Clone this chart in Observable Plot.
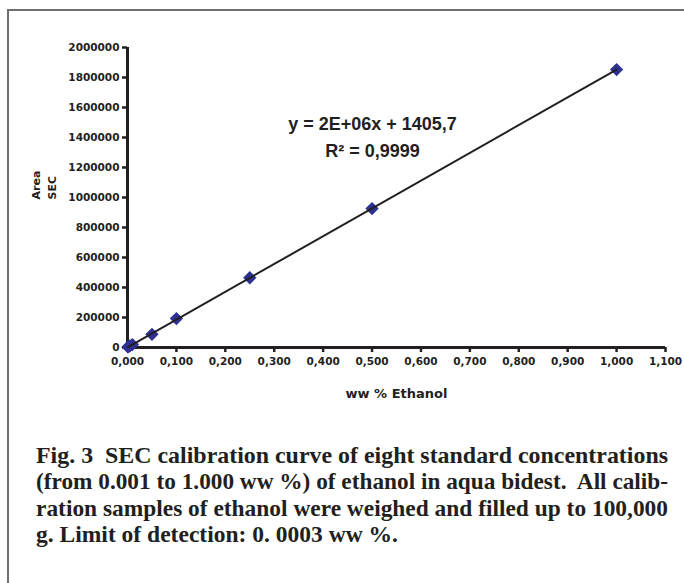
<!DOCTYPE html>
<html>
<head>
<meta charset="utf-8">
<script src="https://cdn.jsdelivr.net/npm/d3@7"></script>
<script src="https://cdn.jsdelivr.net/npm/@observablehq/plot@0.6"></script>
<style>
  html, body { margin: 0; padding: 0; background: #fff; }
  #page { position: relative; width: 684px; height: 583px; overflow: hidden; }
  #frame { position: absolute; left: 7px; top: 9px; width: 700px; height: 600px;
           border-left: 2.5px solid #6f6f6f; border-top: 2.5px solid #6f6f6f; }
  #chart { position: absolute; left: 0; top: 0; }
  #caption { position: absolute; left: 36px; top: 443px; width: 632px;
             font-family: "Liberation Serif", "Times New Roman", Times, serif; font-weight: bold;
             font-size: 22.5px; line-height: 26.3px; color: #231f20; }
  #caption div { white-space: pre; height: 26.3px; }
  #caption span { display: inline-block; transform-origin: 0 50%; }
</style>
</head>
<body>
<div id="page">
  <div id="frame"></div>
  <div id="chart"></div>
  <div id="caption"></div>
</div>
<script>
// Data
const concentration = [0.001, 0.005, 0.01, 0.05, 0.1, 0.25, 0.5, 1.0];
const area = [3500, 10500, 19500, 88000, 193000, 465000, 926000, 1853000];

const xTicks = [0, 0.1, 0.2, 0.3, 0.4, 0.5, 0.6, 0.7, 0.8, 0.9, 1.0, 1.1];
const yTicks = [0, 200000, 400000, 600000, 800000, 1000000, 1200000, 1400000, 1600000, 1800000, 2000000];

const xTitle = "ww % Ethanol";
const yTitle = "Area\nSEC";
const equation = "y = 2E+06x + 1405,7";
const rSquared = "R² = 0,9999";
const captionLines = [
  "Fig. 3  SEC calibration curve of eight standard concentrations",
  "(from 0.001 to 1.000 ww %) of ethanol in aqua bidest.  All calib-",
  "ration samples of ethanol were weighed and filled up to 100,000",
  "g. Limit of detection: 0. 0003 ww %."
];

const data = concentration.map((c, i) => ({x: c, y: area[i]}));

const chart = Plot.plot({
  width: 684,
  height: 410,
  marginLeft: 127,
  marginRight: 19,
  marginTop: 47,
  marginBottom: 63,
  style: {fontFamily: "'DejaVu Sans', sans-serif", fontSize: "10.5px", fontWeight: "bold", color: "#231f20", background: "transparent"},
  x: {domain: [0, 1.1], label: null},
  y: {domain: [0, 2000000], label: null},
  marks: [
    Plot.axisY(yTicks, {tickSize: 5, tickPadding: 3, strokeWidth: 2.5, tickFormat: d => String(d), label: null}),
    Plot.axisX(xTicks, {tickSize: 5, tickPadding: 5, strokeWidth: 2.5, tickFormat: d => d3.format(".3f")(d).replace(".", ","), label: null}),
    Plot.ruleX([0], {strokeWidth: 3, stroke: "#231f20"}),
    Plot.ruleY([0], {strokeWidth: 3, stroke: "#231f20"}),
    Plot.dot(data, {x: "x", y: "y", symbol: "diamond2", r: 6, fill: "#2d3192", stroke: "none"}),
    Plot.linearRegressionY(data, {x: "x", y: "y", ci: 0, stroke: "#231f20", strokeWidth: 2}),
    Plot.text([xTitle], {frameAnchor: "bottom", lineAnchor: "middle", dy: 46, fontSize: 13, fontWeight: "bold"}),
    Plot.text([yTitle], {frameAnchor: "left", lineAnchor: "middle", rotate: -90, dx: -85, dy: 2, fontSize: 11, lineHeight: 1.5, fontWeight: "bold"}),
    Plot.text([equation], {frameAnchor: "top", lineAnchor: "bottom", dx: -24, dy: 82, fontSize: 18, fontWeight: "bold", fontFamily: "'Liberation Sans', Arial, sans-serif"}),
    Plot.text([rSquared], {frameAnchor: "top", lineAnchor: "bottom", dx: -24, dy: 109, fontSize: 18, fontWeight: "bold", fontFamily: "'Liberation Sans', Arial, sans-serif"})
  ]
});
document.getElementById("chart").appendChild(chart);

// Caption: condensed bold serif, lines fitted to the text block width
const cap = document.getElementById("caption");
const spans = captionLines.map(t => {
  const d = document.createElement("div");
  const s = document.createElement("span");
  s.textContent = t;
  d.appendChild(s);
  cap.appendChild(d);
  return s;
});
const blockWidth = 632;
const scales = spans.map(s => blockWidth / s.getBoundingClientRect().width);
spans.forEach((s, i) => {
  const k = i < spans.length - 1 ? scales[i] : d3.mean(scales.slice(0, -1));
  s.style.transform = `scaleX(${k})`;
});
</script>
</body>
</html>
